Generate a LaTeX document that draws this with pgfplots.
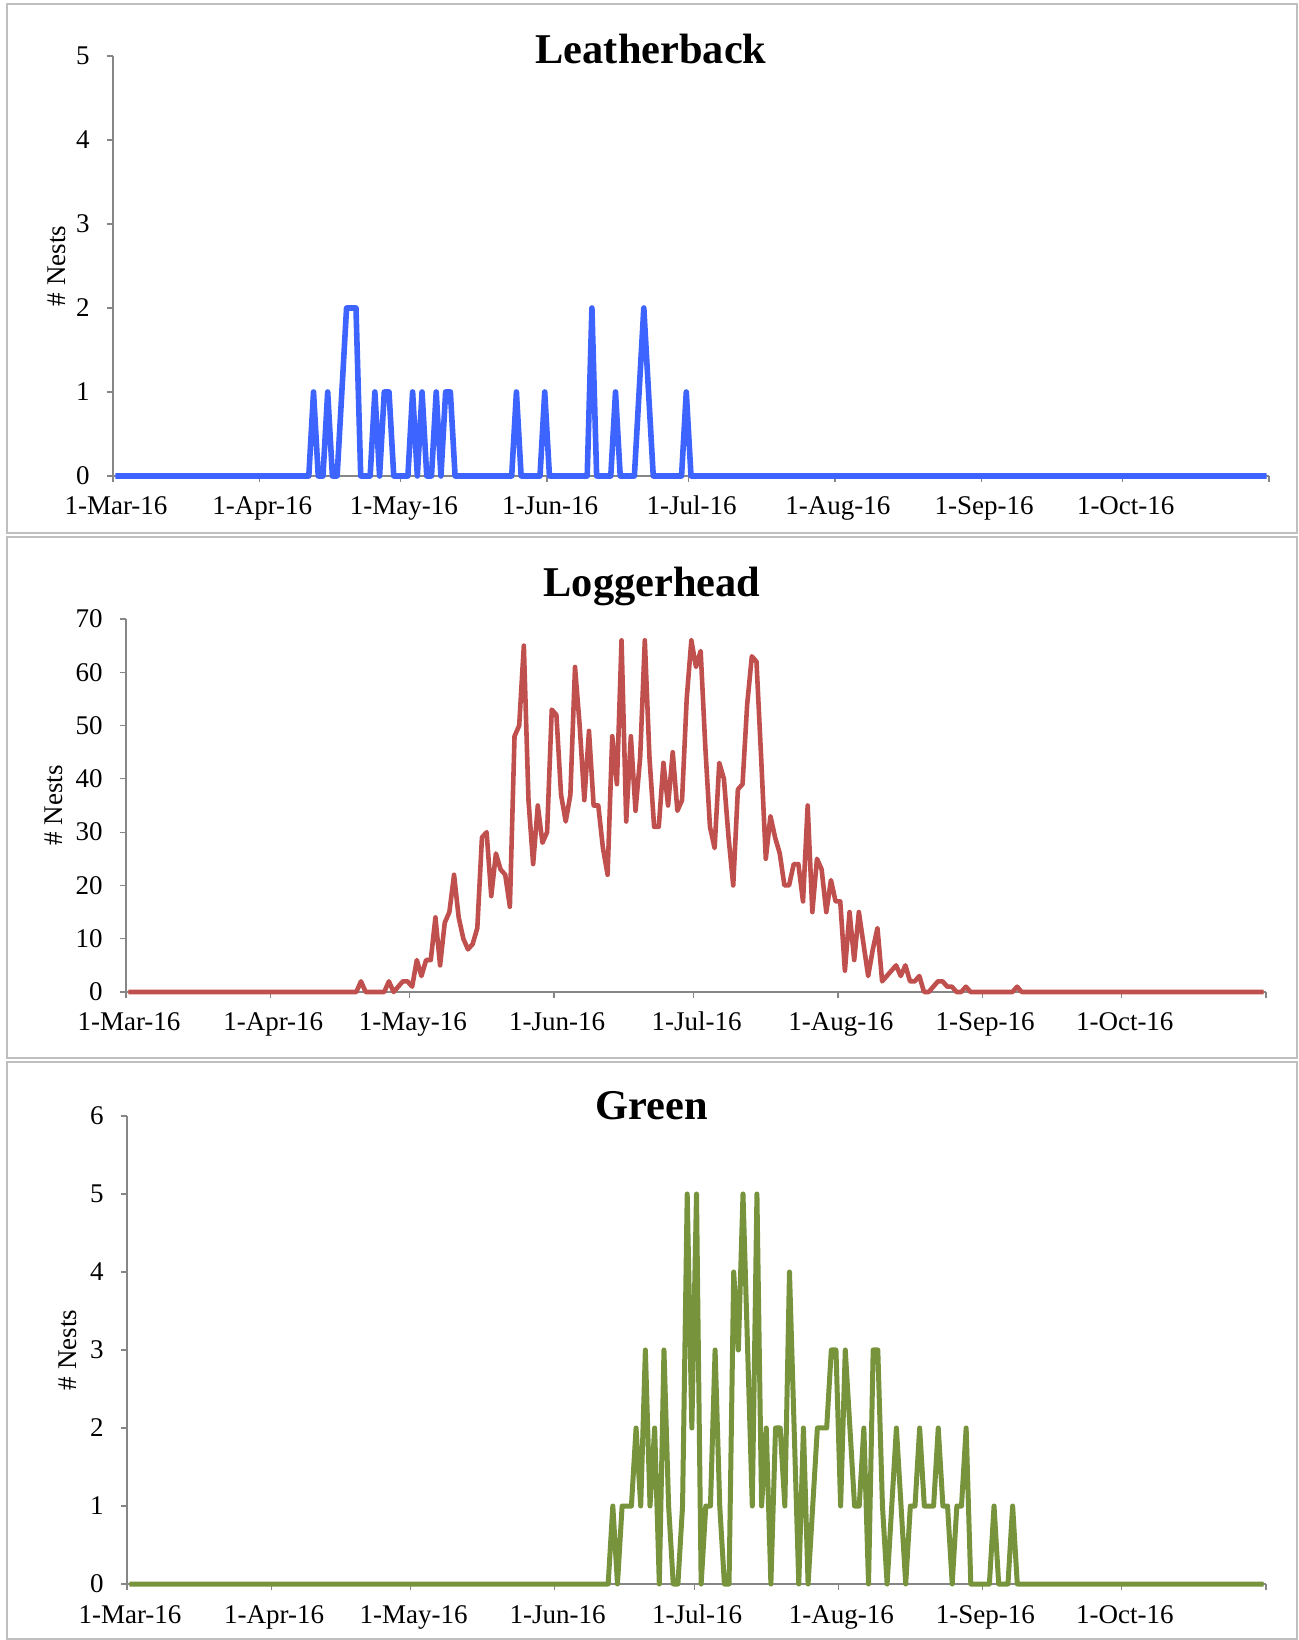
\documentclass[border=0pt]{standalone}
\usepackage{fontspec}
\setmainfont{Liberation Serif}
\usepackage{pgfplots}
\usepackage{pgfplotstable}
\pgfplotsset{compat=1.18}
\definecolor{lbblue}{RGB}{61,100,255}
\definecolor{lhred}{RGB}{192,80,77}
\definecolor{grgreen}{RGB}{119,147,60}
\definecolor{axgray}{RGB}{134,134,134}
\definecolor{bordergray}{RGB}{191,191,191}

% day index (0 = 1-Mar-16), Leatherback, Loggerhead, Green
\pgfplotstableread{
day lb lh gr
0 0 0 0
1 0 0 0
2 0 0 0
3 0 0 0
4 0 0 0
5 0 0 0
6 0 0 0
7 0 0 0
8 0 0 0
9 0 0 0
10 0 0 0
11 0 0 0
12 0 0 0
13 0 0 0
14 0 0 0
15 0 0 0
16 0 0 0
17 0 0 0
18 0 0 0
19 0 0 0
20 0 0 0
21 0 0 0
22 0 0 0
23 0 0 0
24 0 0 0
25 0 0 0
26 0 0 0
27 0 0 0
28 0 0 0
29 0 0 0
30 0 0 0
31 0 0 0
32 0 0 0
33 0 0 0
34 0 0 0
35 0 0 0
36 0 0 0
37 0 0 0
38 0 0 0
39 0 0 0
40 0 0 0
41 0 0 0
42 1 0 0
43 0 0 0
44 0 0 0
45 1 0 0
46 0 0 0
47 0 0 0
48 1 0 0
49 2 0 0
50 2 2 0
51 2 0 0
52 0 0 0
53 0 0 0
54 0 0 0
55 1 0 0
56 0 2 0
57 1 0 0
58 1 1 0
59 0 2 0
60 0 2 0
61 0 1 0
62 0 6 0
63 1 3 0
64 0 6 0
65 1 6 0
66 0 14 0
67 0 5 0
68 1 13 0
69 0 15 0
70 1 22 0
71 1 14 0
72 0 10 0
73 0 8 0
74 0 9 0
75 0 12 0
76 0 29 0
77 0 30 0
78 0 18 0
79 0 26 0
80 0 23 0
81 0 22 0
82 0 16 0
83 0 48 0
84 0 50 0
85 1 65 0
86 0 36 0
87 0 24 0
88 0 35 0
89 0 28 0
90 0 30 0
91 1 53 0
92 0 52 0
93 0 37 0
94 0 32 0
95 0 37 0
96 0 61 0
97 0 50 0
98 0 36 0
99 0 49 0
100 0 35 0
101 2 35 0
102 0 27 0
103 0 22 0
104 0 48 1
105 0 39 0
106 1 66 1
107 0 32 1
108 0 48 1
109 0 34 2
110 0 44 1
111 1 66 3
112 2 44 1
113 1 31 2
114 0 31 0
115 0 43 3
116 0 35 1
117 0 45 0
118 0 34 0
119 0 36 1
120 0 55 5
121 1 66 2
122 0 61 5
123 0 64 0
124 0 46 1
125 0 31 1
126 0 27 3
127 0 43 1
128 0 40 0
129 0 29 0
130 0 20 4
131 0 38 3
132 0 39 5
133 0 54 3
134 0 63 1
135 0 62 5
136 0 44 1
137 0 25 2
138 0 33 0
139 0 29 2
140 0 26 2
141 0 20 1
142 0 20 4
143 0 24 2
144 0 24 0
145 0 17 2
146 0 35 0
147 0 15 1
148 0 25 2
149 0 23 2
150 0 15 2
151 0 21 3
152 0 17 3
153 0 17 1
154 0 4 3
155 0 15 2
156 0 6 1
157 0 15 1
158 0 9 2
159 0 3 0
160 0 8 3
161 0 12 3
162 0 2 1
163 0 3 0
164 0 4 1
165 0 5 2
166 0 3 1
167 0 5 0
168 0 2 1
169 0 2 1
170 0 3 2
171 0 0 1
172 0 0 1
173 0 1 1
174 0 2 2
175 0 2 1
176 0 1 1
177 0 1 0
178 0 0 1
179 0 0 1
180 0 1 2
181 0 0 0
182 0 0 0
183 0 0 0
184 0 0 0
185 0 0 0
186 0 0 1
187 0 0 0
188 0 0 0
189 0 0 0
190 0 0 1
191 0 1 0
192 0 0 0
193 0 0 0
194 0 0 0
195 0 0 0
196 0 0 0
197 0 0 0
198 0 0 0
199 0 0 0
200 0 0 0
201 0 0 0
202 0 0 0
203 0 0 0
204 0 0 0
205 0 0 0
206 0 0 0
207 0 0 0
208 0 0 0
209 0 0 0
210 0 0 0
211 0 0 0
212 0 0 0
213 0 0 0
214 0 0 0
215 0 0 0
216 0 0 0
217 0 0 0
218 0 0 0
219 0 0 0
220 0 0 0
221 0 0 0
222 0 0 0
223 0 0 0
224 0 0 0
225 0 0 0
226 0 0 0
227 0 0 0
228 0 0 0
229 0 0 0
230 0 0 0
231 0 0 0
232 0 0 0
233 0 0 0
234 0 0 0
235 0 0 0
236 0 0 0
237 0 0 0
238 0 0 0
239 0 0 0
240 0 0 0
241 0 0 0
242 0 0 0
243 0 0 0
244 0 0 0
}\nests

\pgfplotsset{
  panel/.style={
    scale only axis,
    anchor=south west,
    axis lines*=left,
    axis line style={axgray, line width=0.6pt},
    xmin=0, xmax=245, ymin=0,
    xtick={0,31,61,92,122,153,184,214,245},
    xticklabels={1-Mar-16,1-Apr-16,1-May-16,1-Jun-16,1-Jul-16,1-Aug-16,1-Sep-16,1-Oct-16,{}},
    tick align=outside,
    major tick length=3pt,
    minor tick num=0,
    tick style={axgray, line width=0.6pt},
    every tick label/.append style={font=\fontsize{13.5}{16}\selectfont},
    xticklabel style={anchor=base, inner sep=0pt, yshift=-16.5pt, xshift=1.5pt},
    yticklabel style={anchor=east, inner sep=0pt, xshift=-8.5pt},
    /pgf/number format/assume math mode=true,
    ylabel={\# Nests},
    clip=false,
  }
}

\begin{document}
\begin{tikzpicture}
\useasboundingbox (0,0) rectangle (649.5pt,820pt);
% panel borders
\draw[bordergray, line width=1pt] (3.5pt,553.5pt) rectangle (648.5pt,818pt);
\draw[bordergray, line width=1pt] (3.5pt,291pt) rectangle (648.5pt,551.5pt);
\draw[bordergray, line width=1pt] (3.5pt,0.5pt) rectangle (648.5pt,289pt);

% Leatherback
\begin{axis}[panel, at={(56.5pt,582pt)}, width=578pt, height=210pt,
  ymax=5, ytick={0,1,2,3,4,5},
  ylabel style={at={([xshift=-28.25pt]axis description cs:0,0.5)}, anchor=center, font=\fontsize{13.5}{16}\selectfont}]
\addplot[lbblue, line width=2.8pt, line join=round, mark=none] table[x expr=\thisrow{day}+0.5, y=lb] {\nests};
\end{axis}

% Loggerhead
\begin{axis}[panel, at={(63pt,324pt)}, width=570pt, height=186.5pt,
  ymax=70, ytick={0,10,20,30,40,50,60,70},
  ylabel style={at={([xshift=-36pt]axis description cs:0,0.5)}, anchor=center, font=\fontsize{13.5}{16}\selectfont}]
\addplot[lhred, line width=2.3pt, line join=round, mark=none] table[x expr=\thisrow{day}+0.5, y=lh] {\nests};
\end{axis}

% Green
\begin{axis}[panel, at={(63.5pt,28pt)}, width=569.5pt, height=234pt,
  ymax=6, ytick={0,1,2,3,4,5,6},
  ylabel style={at={([xshift=-29.5pt]axis description cs:0,0.5)}, anchor=center, font=\fontsize{13.5}{16}\selectfont}]
\addplot[grgreen, line width=2.5pt, line join=round, mark=none] table[x expr=\thisrow{day}+0.5, y=gr] {\nests};
\end{axis}

% titles
\node[anchor=base, inner sep=0pt] at (325.5pt,788.3pt) {\fontsize{21.2}{25}\selectfont\bfseries Leatherback};
\node[anchor=base, inner sep=0pt] at (326pt,521.5pt) {\fontsize{21.2}{25}\selectfont\bfseries Loggerhead};
\node[anchor=base, inner sep=0pt] at (326pt,260pt) {\fontsize{21.2}{25}\selectfont\bfseries Green};
\end{tikzpicture}
\end{document}
